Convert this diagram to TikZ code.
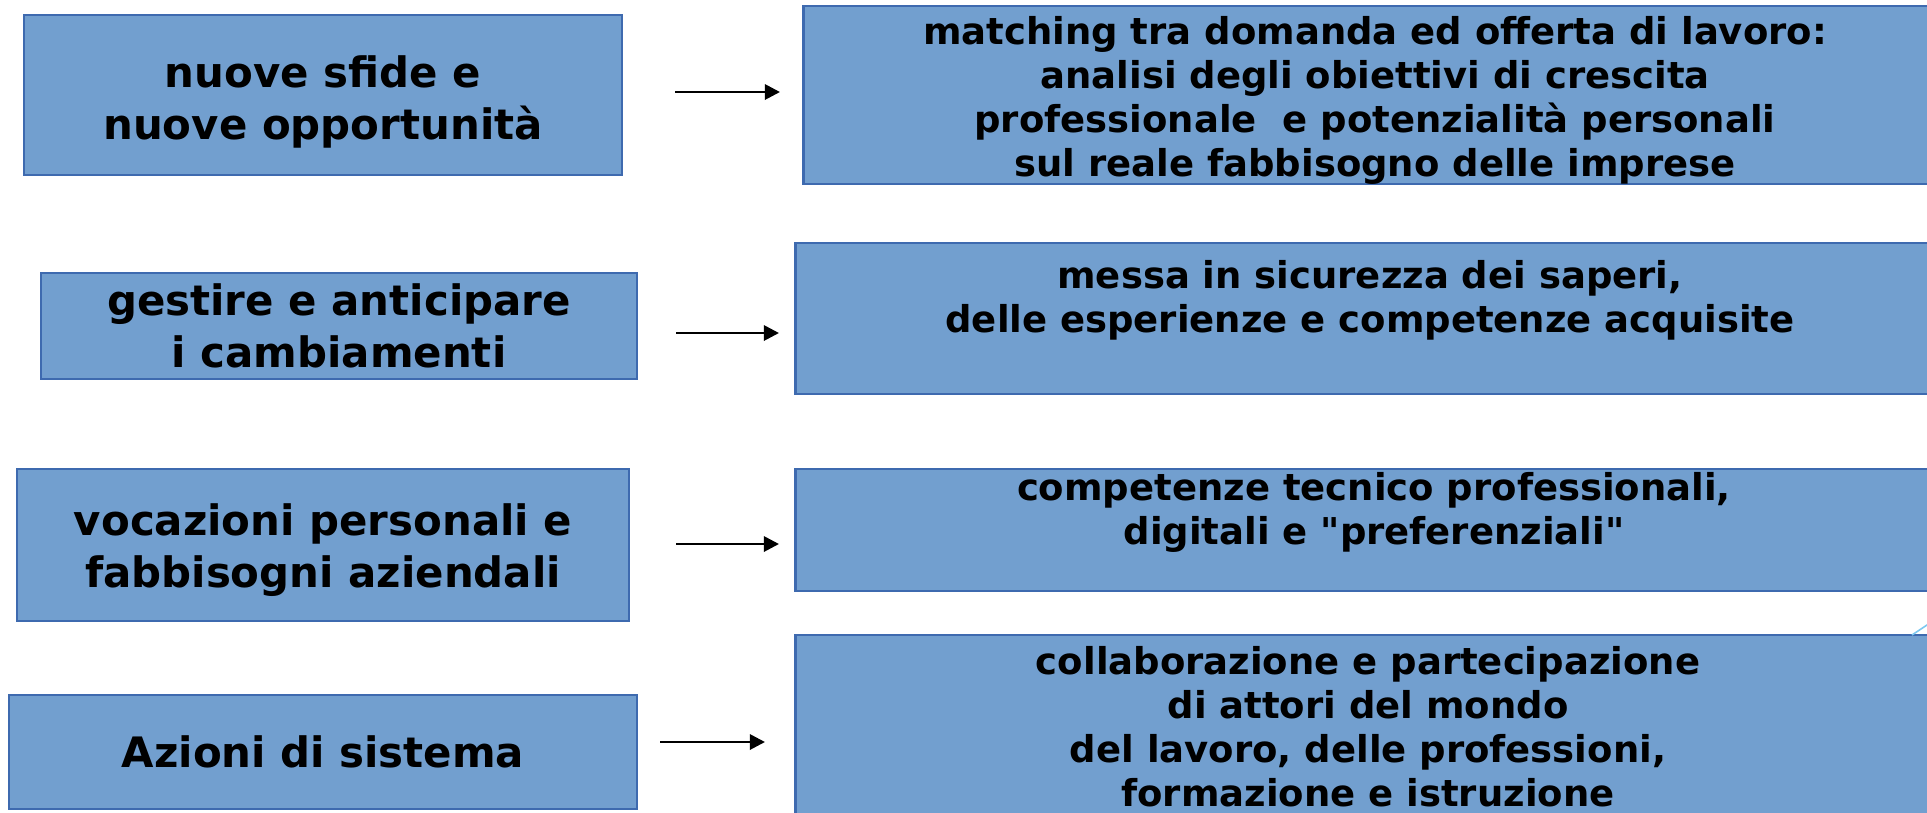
\documentclass[tikz,border=0pt]{standalone}
\usepackage{fontspec}
\setmainfont{DejaVu Sans}[Ligatures=TeXOff]
\usetikzlibrary{arrows.meta}
\definecolor{boxfill}{RGB}{114,159,207}
\definecolor{boxline}{RGB}{62,106,175}
\definecolor{streak}{RGB}{125,200,240}

\begin{document}
\begin{tikzpicture}[x=0.025cm,y=-0.025cm,
        box/.style={draw=boxline,fill=boxfill,line width=0.07cm,align=center,inner sep=0pt},
        cause/.style={box,font=\fontsize{29.8}{36.7}\bfseries\selectfont},
        effect/.style={box,font=\fontsize{26.3}{31.3}\bfseries\selectfont},
        arr/.style={line width=0.07cm,-{Triangle[length=0.38cm,width=0.38cm]}}]
        \useasboundingbox (0,0) rectangle (1927,812);
        \clip (0,0) rectangle (1927,812);

        % left column
        \node[cause,minimum width=14.95cm,minimum height=4cm] (c1) at (323,95) {\rule{0pt}{1.15cm}nuove sfide e\\nuove opportunità};
        \node[cause,minimum width=14.9cm,minimum height=2.65cm] (c2) at (339,326) {gestire e anticipare\\i cambiamenti};
        \node[cause,minimum width=15.3cm,minimum height=3.8cm] (c3) at (323,545) {\rule{0pt}{1.05cm}vocazioni personali e\\fabbisogni aziendali};
        \node[cause,minimum width=15.7cm,minimum height=2.85cm] (c4) at (323,752) {Azioni di sistema};

        % right column
        \node[effect,minimum width=28.55cm,minimum height=4.4cm] (e1) at (1375,95) {\rule{0pt}{0.95cm}matching tra domanda ed offerta di lavoro:\\analisi degli obiettivi di crescita\\professionale\ \ e potenzialità personali\\sul reale fabbisogno delle imprese};
        \node[effect,minimum width=28.7cm,minimum height=3.775cm] (e2) at (1370,318.5) {messa in sicurezza dei saperi,\\delle esperienze e competenze acquisite\\\mbox{}};
        \node[effect,minimum width=28.9cm,minimum height=3.05cm] (e3) at (1374,530) {competenze tecnico professionali,\\digitali e "preferenziali"\\\mbox{}};
        \node[effect,minimum width=28.6cm,minimum height=4.6cm] (e4) at (1368,727) {collaborazione e partecipazione\\di attori del mondo\\del lavoro, delle professioni,\\formazione e istruzione};

        \coordinate (s1) at (675,92);  \coordinate (t1) at (780,92);
        \coordinate (s2) at (676,333); \coordinate (t2) at (779,333);
        \coordinate (s3) at (676,544); \coordinate (t3) at (779,544);
        \coordinate (s4) at (660,742); \coordinate (t4) at (765,742);
        \draw[arr] (s1) -- (t1);
        \draw[arr] (s2) -- (t2);
        \draw[arr] (s3) -- (t3);
        \draw[arr] (s4) -- (t4);

        \draw[streak,line width=0.04cm] (1912,635) -- (1945,613);
\end{tikzpicture}
\end{document}
